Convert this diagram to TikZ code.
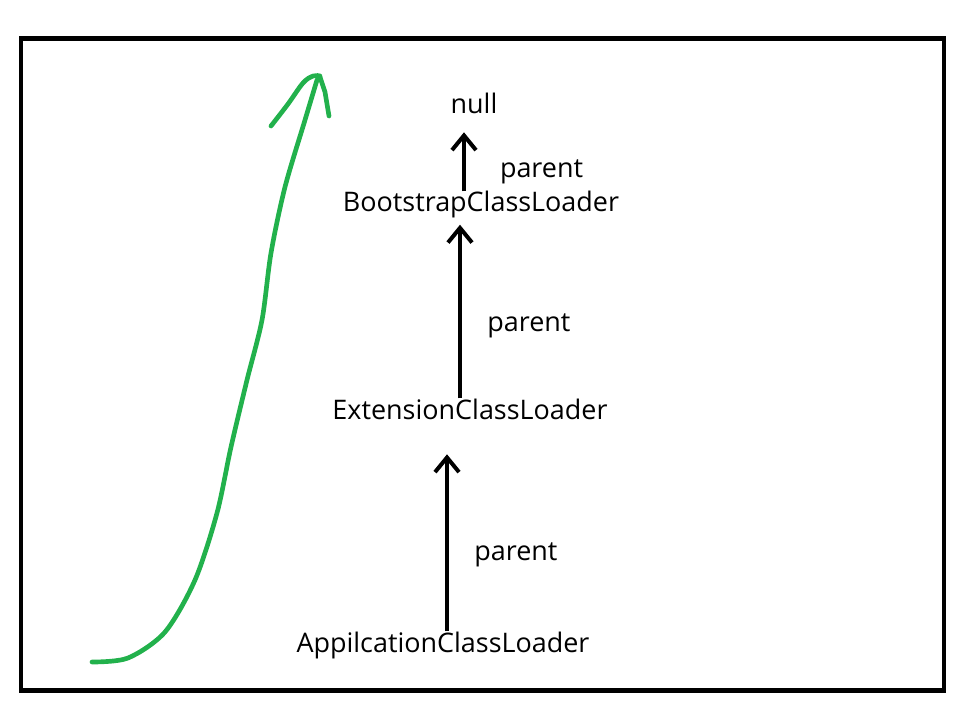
\documentclass[tikz,border=0pt]{standalone}
\usepackage{fontspec}
\setmainfont{Open Sans}
\usetikzlibrary{arrows.meta, positioning}
\definecolor{paintgreen}{HTML}{22B14C}

\begin{document}
\begin{tikzpicture}[x=0.75pt, y=-0.75pt, >={Straight Barb[length=11pt, width=18pt]},
    every node/.style={font=\fontsize{20.2}{24}\selectfont, inner sep=0pt},
    parentline/.style={->, line width=3pt},
    parentlabel/.style={right=19pt}]
  \useasboundingbox (0,0) rectangle (973,702);
  % Frame
  \draw[line width=3.5pt] (21,38.5) rectangle (944,690.5);
  % Class loaders
  \node (null) at (474,103) {null};
  \node (boot) at (481,205) {BootstrapClassLoader};
  \node (ext) at (470,409) {ExtensionClassLoader};
  \node (app) at (443,645) {AppilcationClassLoader};
  % Parent links
  \draw[parentline] ([xshift=-12.75pt]boot.north) -- ([xshift=-7.5pt, yshift=-14pt]null.south)
    node[pos=0.33, right=25.5pt] {parent};
  \draw[parentline] ([xshift=-7.5pt]ext.north) -- ([xshift=-15.75pt, yshift=-4.5pt]boot.south)
    node[pos=0.42, parentlabel] {parent};
  \draw[parentline] ([xshift=3pt]app.north) -- ([xshift=-17.25pt, yshift=-26pt]ext.south)
    node[pos=0.43, parentlabel] {parent};
  % Green hand-drawn arrow
  \draw[paintgreen, line width=3.5pt, line join=round, line cap=round]
    plot[smooth, tension=0.5] coordinates {(92,662) (128,658) (165,632) (195,580)
      (217,513) (231,447) (247,380) (262,320) (271,253) (285,187) (305,120) (317,80)}
    -- (320,77) -- (325,92) -- (329,116);
  \draw[paintgreen, line width=3.5pt, line join=round, line cap=round]
    plot[smooth, tension=0.6] coordinates {(271,126) (288,104) (303,83) (313,76) (320,76)};
\end{tikzpicture}
\end{document}
